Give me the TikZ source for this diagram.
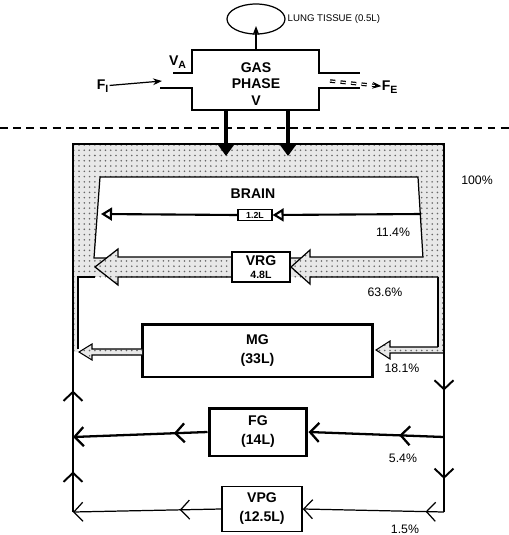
\documentclass[tikz,border=0pt]{standalone}
\usepackage{fontspec}
\setmainfont{Liberation Sans}
\usetikzlibrary{positioning,arrows.meta,patterns,decorations.markings,shapes.geometric}
\tikzset{
  px/.style={x=0.02cm,y=-0.02cm},
  lbl/.style={font=\fontsize{8}{9.4}\selectfont\bfseries,align=center,inner sep=0pt},
  pct/.style={font=\fontsize{7}{7}\selectfont,inner sep=0pt},
  stip/.style={preaction={fill=black!9},pattern=dots,pattern color=black!60},
  wall/.style={line width=0.7pt},
  rim/.style={line width=1.1pt},
  tissue/.style={draw,line width=1.7pt,fill=white,align=center,inner sep=0pt,
    font=\fontsize{8}{10.8}\selectfont\bfseries},
  thinbox/.style={draw,line width=0.8pt,fill=white,align=center,inner sep=0pt,
    font=\fontsize{8}{10.8}\selectfont\bfseries},
  bigflow/.style={line width=2pt,-{Triangle[length=2.6mm,width=3.6mm]}},
  chev/.style={-{Straight Barb[length=1.8mm,width=3.8mm]}},
  midchev/.style={postaction={decorate,decoration={markings,
      mark=at position #1 with {\arrow{Straight Barb[length=1.8mm,width=3.8mm]}}}}},
  hollow/.style={-{Triangle[open,length=2.2mm,width=2.6mm]}},
}

\begin{document}
\begin{tikzpicture}[px]
  \useasboundingbox (0,0) rectangle (509,535);

  % --- lung / gas phase ---
  \node[ellipse,draw,line width=0.7pt,minimum width=1.16cm,minimum height=0.6cm] (lung) at (256,19) {};
  \node[font=\fontsize{5.5}{6}\selectfont,anchor=west,inner sep=1pt] (lungtxt) at (lung.east) {LUNG TISSUE (0.5L)};
  \node[lbl] (gas) at (256,84) {GAS\\PHASE\\V};
  \draw[wall] (160,88) -- (192,88) -- (192,110) -- (319,110) -- (319,88) -- (360,88)
              (173,73) -- (192,73) -- (192,50) -- (319,50) -- (319,73) -- (360,73);
  \coordinate (gtop) at (256,50);
  \draw[wall,-{Stealth[length=1.8mm]}] (gtop) -- ([yshift=-0.14cm]lung.center);

  \node[lbl] (fi) at (103,86) {F\textsubscript{I}};
  \node[lbl] (va) at (178,62) {V\textsubscript{A}};
  \node[lbl] (fe) at (390,87) {F\textsubscript{E}};
  \coordinate (inlet) at (162,81);
  \coordinate (outlet) at (330,81);
  \draw[wall,-{Stealth[length=1.8mm]}] (fi) -- (inlet);
  \draw[wall,double,dashed,-{Stealth[length=1.8mm]}] (outlet) -- (fe);

  \draw[line width=0.9pt,dash pattern=on 4.5pt off 3pt] (0,128) -- (509,128);

  % --- shaded blood band ---
  \fill[stip] (73,144) rectangle (444,277);
  \fill[stip] (73,277) rectangle (78,352);
  \fill[stip] (438,277) rectangle (444,353);
  \filldraw[wall,fill=white] (100,177) -- (418,177) -- (423,258) -- (94,258) -- cycle;
  \draw[rim] (73,512) -- (73,144) -- (444,144) -- (444,512);
  \draw[wall] (95,277) -- (78,277) -- (78,349);
  \draw[wall] (438,277) -- (438,347);

  \coordinate (gl) at (226,110); \coordinate (bl) at (226,156);
  \coordinate (gr) at (288,110); \coordinate (br) at (288,156);
  \draw[bigflow] (gl) -- (bl);
  \draw[bigflow] (gr) -- (br);

  % --- brain ---
  \node[lbl] (braintxt) at (253,194) {BRAIN};
  \node[draw,line width=0.7pt,fill=white,font=\fontsize{5}{5}\selectfont\bfseries,inner sep=0.5pt,
        minimum width=0.68cm,minimum height=0.22cm] (brain) at (255,215) {1.2L};
  \coordinate (brr) at (421,214);
  \coordinate (brl) at (101,214);
  \draw[line width=1.2pt,hollow] (brr) -- (brain.east);
  \draw[line width=1.2pt,hollow] (brain.west) -- (brl);

  % --- VRG ---
  \filldraw[stip,wall] (232,257) -- (118,257) -- (118,249) -- (95,267) -- (118,285) -- (118,277) -- (232,277);
  \filldraw[stip,wall] (423,257) -- (310,257) -- (310,250) -- (291,267) -- (310,284) -- (310,277) -- (438,277);
  \node[thinbox,minimum width=1.16cm,minimum height=0.6cm] (vrg) at (261,267)
    {VRG\\[-3pt]{\fontsize{6}{6}\selectfont 4.8L}};

  % --- MG ---
  \node[tissue,minimum width=4.62cm,minimum height=1.06cm] (mg) at (257.5,350.5) {MG\\(33L)};
  \filldraw[stip,line width=0.6pt] (438,347) -- (390,347) -- (390,341) -- (376,350)
    -- (390,359) -- (390,353) -- (444,353);
  \filldraw[stip,line width=0.6pt] (142,349) -- (92,349) -- (92,344) -- (79,352)
    -- (92,360) -- (92,355) -- (142,355);

  % --- FG and VPG ---
  \node[tissue,minimum width=1.96cm,minimum height=0.96cm] (fg) at (258,432) {FG\\(14L)};
  \node[thinbox,line width=0.9pt,minimum width=1.6cm,minimum height=0.9cm] (vpg) at (262,509) {VPG\\(12.5L)};

  \coordinate (rfg) at (444,437);  \coordinate (lfg) at (73,437);
  \coordinate (rvpg) at (444,512); \coordinate (lvpg) at (73,512);
  \coordinate (rtop) at (444,144); \coordinate (ltop) at (73,144);
  \draw[line width=1.3pt,midchev=0.33,chev] (rfg) -- (fg.east);
  \draw[line width=1.3pt,midchev=0.25,chev] (fg.west) -- (lfg);
  \draw[line width=0.7pt,midchev=0.13,chev] (rvpg) -- (vpg.east);
  \draw[line width=0.7pt,midchev=0.28,chev] (vpg.west) -- (lvpg);
  \draw[rim,midchev=0.67,midchev=0.91] (rtop) -- (rvpg);
  \draw[rim,midchev=0.11,midchev=0.33] (lvpg) -- (ltop);

  % --- percentages ---
  \foreach \x/\y/\t [count=\i] in {477/180/{100\%}, 393/232/{11.4\%}, 385/292/{63.6\%},
      402/368/{18.1\%}, 403/458/{5.4\%}, 405/529/{1.5\%}}
    \node[pct] (pct\i) at (\x,\y) {\t};
\end{tikzpicture}
\end{document}
